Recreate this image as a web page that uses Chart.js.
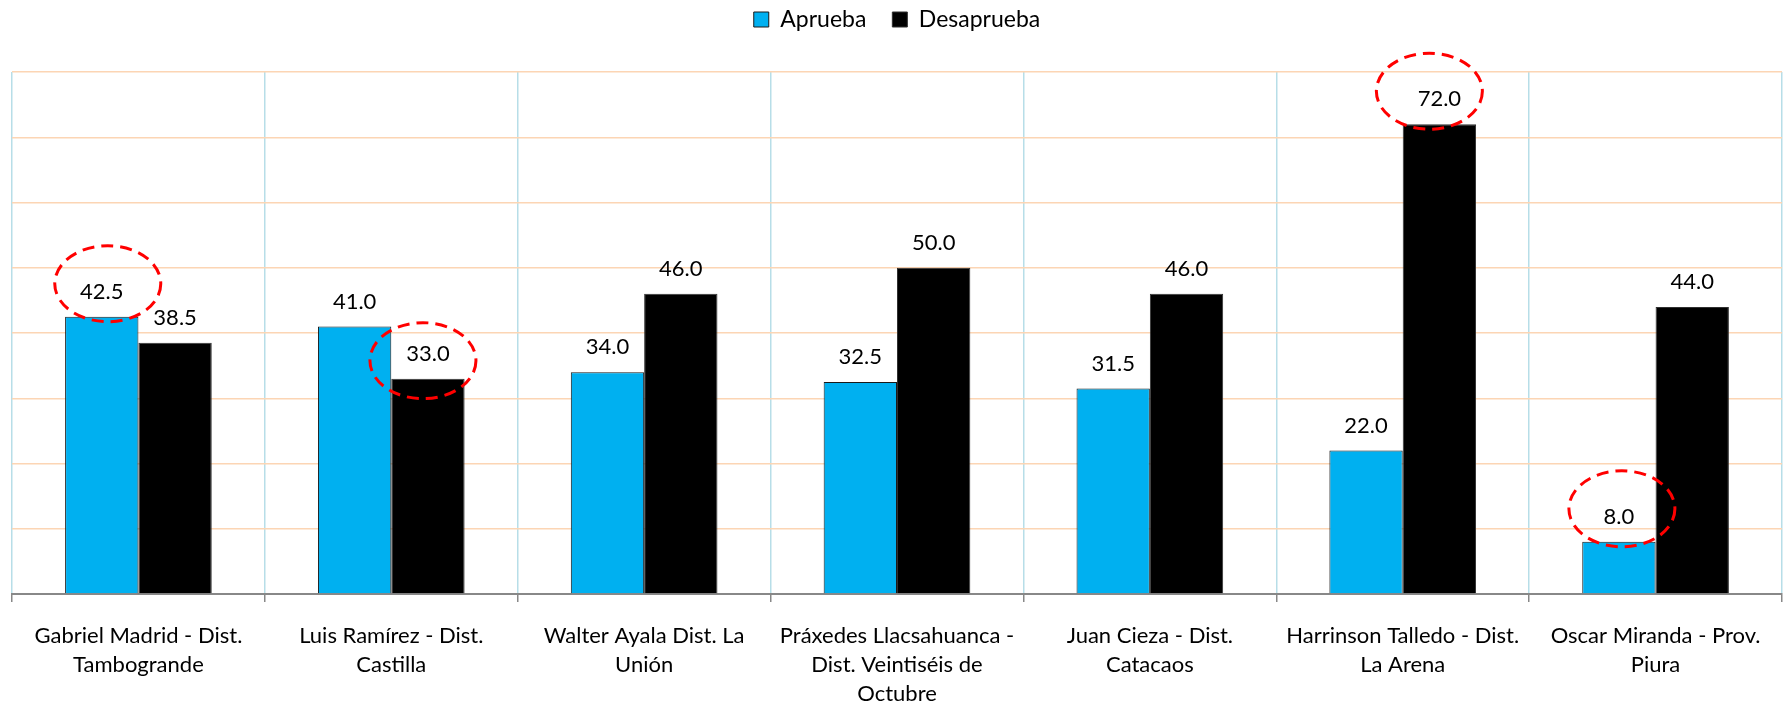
<!DOCTYPE html>
<html>
<head>
<meta charset="utf-8">
<script src="https://cdn.jsdelivr.net/npm/chart.js@4.4.1/dist/chart.umd.min.js"></script>
<style>
  html, body { margin: 0; padding: 0; background: #fff; }
  #wrap { width: 1787px; height: 706px; position: relative; }
</style>
</head>
<body>
<div id="wrap"><canvas id="approvalChart"></canvas></div>
<script>
const categories = [
    ['Gabriel Madrid - Dist.', 'Tambogrande'],
    ['Luis Ramírez - Dist.', 'Castilla'],
    ['Walter Ayala Dist. La', 'Unión'],
    ['Práxedes Llacsahuanca -', 'Dist. Veintiséis de', 'Octubre'],
    ['Juan Cieza - Dist.', 'Catacaos'],
    ['Harrinson Talledo - Dist.', 'La Arena'],
    ['Oscar Miranda - Prov.', 'Piura']
];
const aprueba = [42.5, 41.0, 34.0, 32.5, 31.5, 22.0, 8.0];
const desaprueba = [38.5, 33.0, 46.0, 50.0, 46.0, 72.0, 44.0];
const yTicks = [0, 10, 20, 30, 40, 50, 60, 70, 80];

const FONT = 'Lato, "Open Sans", sans-serif';

// which bars get a red dashed ring (dataset, index, offset from bar top)
const highlights = [
    { ds: 0, i: 0, dx: 6, dy: -33 },
    { ds: 1, i: 1, dx: -5, dy: -18 },
    { ds: 1, i: 5, dx: -10, dy: -33 },
    { ds: 0, i: 6, dx: 3, dy: -33 }
];

// value labels above every bar
const valueLabels = {
    id: 'valueLabels',
    afterDatasetsDraw(chart) {
        const ctx = chart.ctx;
        ctx.save();
        ctx.font = '22px ' + FONT;
        ctx.fillStyle = '#000';
        ctx.textAlign = 'center';
        ctx.textBaseline = 'middle';
        chart.data.datasets.forEach((ds, di) => {
            chart.getDatasetMeta(di).data.forEach((bar, i) => {
                ctx.fillText(ds.data[i].toFixed(1), bar.x, bar.y - 25);
            });
        });
        ctx.restore();
    }
};

const rings = {
    id: 'rings',
    afterDatasetsDraw(chart) {
        const ctx = chart.ctx;
        ctx.save();
        ctx.strokeStyle = '#ff0000';
        ctx.lineWidth = 3;
        ctx.setLineDash([12, 7]);
        highlights.forEach(h => {
            const bar = chart.getDatasetMeta(h.ds).data[h.i];
            ctx.beginPath();
            ctx.ellipse(bar.x + h.dx, bar.y + h.dy, 53, 38, 0, 0, Math.PI * 2);
            ctx.stroke();
        });
        ctx.restore();
    }
};

// push the plot down below the legend
const legendSpace = {
    id: 'legendSpace',
    beforeInit(chart) {
        const fit = chart.legend.fit;
        chart.legend.fit = function () {
            fit.bind(chart.legend)();
            this.height = 90;
        };
    }
};

const ctx = document.getElementById('approvalChart').getContext('2d');
const chart = new Chart(ctx, {
    type: 'bar',
    data: {
        labels: categories,
        datasets: [
            {
                label: 'Aprueba',
                data: aprueba,
                backgroundColor: '#00b0f0',
                borderColor: '#1a1a1a',
                borderWidth: 1,
                barPercentage: 1,
                categoryPercentage: 0.58
            },
            {
                label: 'Desaprueba',
                data: desaprueba,
                backgroundColor: '#000000',
                borderColor: '#303030',
                borderWidth: 1,
                barPercentage: 1,
                categoryPercentage: 0.58
            }
        ]
    },
    options: {
        responsive: true,
        maintainAspectRatio: false,
        animation: false,
        layout: { padding: { top: -18, left: 12, right: 5, bottom: 0 } },
        scales: {
            x: {
                grid: {
                    color: '#b7dee8',
                    lineWidth: 1.5,
                    tickColor: '#888888',
                    tickLength: 8,
                    offset: true
                },
                border: { color: '#888888', width: 2 },
                ticks: {
                    color: '#000',
                    font: { family: FONT, size: 22, lineHeight: 1.333 },
                    padding: 19,
                    maxRotation: 0,
                    autoSkip: false
                },
                afterFit(scale) { scale.height = 112; }
            },
            y: {
                min: yTicks[0],
                max: yTicks[yTicks.length - 1],
                afterBuildTicks(scale) { scale.ticks = yTicks.map(v => ({ value: v })); },
                grid: { color: '#fcd5b4', lineWidth: 1.5, drawTicks: false },
                border: { display: false },
                ticks: { display: false }
            }
        },
        plugins: {
            legend: {
                position: 'top',
                labels: {
                    color: '#000',
                    font: { family: FONT, size: 23 },
                    boxWidth: 15,
                    boxHeight: 15,
                    padding: 26
                }
            },
            tooltip: { enabled: false }
        }
    },
    plugins: [legendSpace, valueLabels, rings]
});
</script>
</body>
</html>
